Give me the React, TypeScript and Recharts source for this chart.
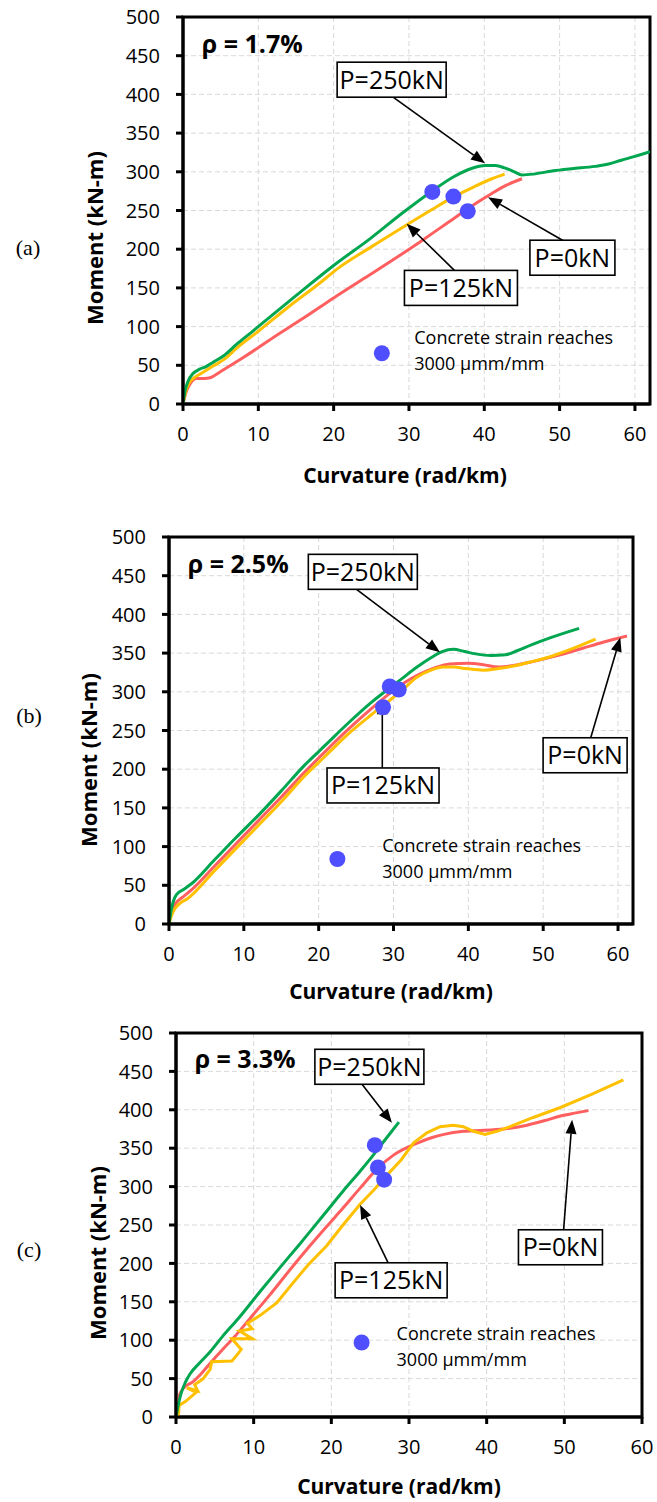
import React from 'react'
import {
  ComposedChart,
  Line,
  Scatter,
  XAxis,
  YAxis,
  CartesianGrid,
  ReferenceArea,
  ReferenceLine,
  ReferenceDot,
} from 'recharts'

type Pt = [number, number]

const FONT = '"Open Sans", sans-serif'
const GREEN = '#00a650'
const YELLOW = '#ffc000'
const RED = '#ff5f5f'
const BLUE = '#4f4fff'

const X_TICKS = [0, 10, 20, 30, 40, 50, 60]
const Y_TICKS = [0, 50, 100, 150, 200, 250, 300, 350, 400, 450, 500]
const LEGEND_TEXT = ['Concrete strain reaches', '3000 μmm/mm']

// (a) rho = 1.7%
const A_P0: Pt[] = [[0, 0], [0.4, 15], [1, 27], [1.8, 33], [2.8, 33], [3.6, 34], [5, 42], [8, 60], [12, 86], [16, 111], [20, 137], [24, 162], [28, 187], [32, 213], [36, 240], [39, 260], [41, 272], [43, 283], [45, 291]]
const A_P125: Pt[] = [[0, 0], [0.3, 14], [0.8, 27], [1.5, 34], [2.5, 40], [4, 49], [5.5, 58], [7.1, 72], [10, 94], [14.2, 127], [18, 155], [20.4, 174], [25, 203], [29.8, 232], [33, 251], [36, 268], [38.5, 280], [41, 291], [42.7, 297]]
const A_P250: Pt[] = [[0, 0], [0.3, 18], [0.7, 30], [1.3, 39], [2.2, 45], [3, 48], [4, 54], [5.5, 63], [7.1, 77], [9, 92], [11.6, 113], [15, 140], [20, 179], [24.9, 214], [29.3, 248], [32.9, 274], [36, 294], [38.2, 304], [40.2, 308], [41.5, 308], [42.7, 305], [44, 300], [45, 296], [46.5, 297], [49, 301], [51.6, 304], [54.7, 307], [56.5, 310], [58.2, 315], [60, 320], [62, 326]]
const A_STRAIN: Pt[] = [[33.1, 274], [35.9, 268], [37.8, 249]]

// (b) rho = 2.5%
const B_P0: Pt[] = [[0, 0], [0.3, 14], [0.7, 24], [1.2, 30], [2, 36], [3, 44], [6, 74], [9, 104], [12, 134], [15, 164], [18, 195], [21, 224], [24, 252], [27, 278], [29.5, 298], [31.5, 312], [33.5, 323], [35.5, 331], [37.5, 336], [40, 337], [42, 335], [44, 332], [46, 334], [48.6, 339], [52, 347], [55.2, 356], [58, 364], [61.2, 372]]
const B_P125: Pt[] = [[0, 0], [0.3, 10], [0.8, 20], [1.5, 27], [2.5, 33], [6, 68], [9, 98], [12, 128], [15, 158], [18, 190], [21, 218], [24, 246], [27, 270], [29.5, 289], [31.5, 305], [33, 318], [35, 328], [36.6, 332], [38, 332], [39.7, 330], [42, 328], [44, 330], [46.4, 334], [48.5, 339], [50.8, 345], [54, 356], [57, 368]]
const B_P250: Pt[] = [[0, 0], [0.3, 18], [0.6, 30], [1, 38], [2, 45], [3, 52], [6, 82], [9, 112], [12, 141], [15, 172], [18, 204], [21, 232], [24, 260], [27, 286], [29.5, 305], [31, 316], [33, 331], [35, 344], [36.5, 352], [38, 355], [39.5, 352], [41, 349], [43, 347], [45, 348], [46.5, 353], [48.5, 361], [51, 370], [54.8, 382]]
const B_STRAIN: Pt[] = [[29.5, 307], [30.7, 303], [28.6, 280]]

// (c) rho = 3.3%
const C_P0: Pt[] = [[0, 0], [0.2, 20], [0.5, 30], [1, 38], [2.2, 46], [3.3, 57], [4.4, 70], [6, 88], [7.5, 104], [9.5, 128], [12, 158], [15.1, 197], [17, 220], [19.4, 248], [21.5, 272], [23.7, 298], [26, 324], [28, 341], [30, 352], [31.4, 358], [33, 364], [34.5, 368], [37, 372], [40.9, 374], [43, 376], [45.2, 380], [47.5, 386], [49.5, 392], [51.5, 396], [53.1, 399]]
const C_P125: Pt[] = [[0.3, 0], [0.4, 15], [1.2, 20], [2.6, 32], [1.4, 38], [2.8, 34], [2.4, 42], [3.5, 50], [4.4, 62], [4.6, 72], [7.2, 73], [7.8, 80], [8.4, 88], [7.2, 102], [9.8, 102], [8.2, 112], [9.8, 115], [9.2, 122], [10.8, 132], [13, 149], [15.1, 175], [17, 198], [19.4, 223], [21.5, 250], [23.7, 277], [25.5, 296], [27.1, 314], [29, 335], [30.6, 357], [32.3, 370], [34, 378], [35.7, 380], [37, 378], [38.3, 372], [39.8, 368], [41.3, 372], [43, 378], [46, 390], [49.5, 403], [53.5, 420], [57.6, 439]]
const C_P250: Pt[] = [[0, 0], [0.3, 16], [0.7, 32], [1.2, 45], [1.8, 56], [3, 70], [4.4, 85], [6, 105], [8, 128], [10.8, 163], [13, 190], [16, 226], [19.4, 268], [21.5, 294], [23.7, 320], [25.4, 341], [27, 362], [28.7, 384]]
const C_STRAIN: Pt[] = [[25.6, 354], [26, 325], [26.8, 309]]

interface Callout {
  text: string
  box: Pt
  w: number
  from: Pt
  to: Pt
}

interface PanelCfg {
  tag: string
  tagPos: Pt
  top: number
  height: number
  margin: { top: number; right: number; left: number; bottom: number }
  xMax: number
  p0: Pt[]
  p125: Pt[]
  p250: Pt[]
  strain: Pt[]
  rho: string
  rhoAt: Pt
  legendDot: Pt
  legendText: Pt
  yTitle: Pt
  xTitle: Pt
  callouts: Callout[]
}

const PANELS: PanelCfg[] = [
  {
    tag: '(a)', tagPos: [28, 248], top: 0, height: 500,
    margin: { top: 17, right: 7, left: 123, bottom: 56 }, xMax: 62,
    p0: A_P0, p125: A_P125, p250: A_P250, strain: A_STRAIN,
    rho: 'ρ = 1.7%', rhoAt: [2.5, 453], legendDot: [26.4, 65.6], legendText: [30.7, 86],
    yTitle: [94, 238], xTitle: [405, 483],
    callouts: [
      { text: 'P=250kN', box: [27.7, 419], w: 109, from: [27.8, 397], to: [40.1, 311] },
      { text: 'P=0kN', box: [51.7, 189], w: 85, from: [50.5, 211], to: [40.5, 267] },
      { text: 'P=125kN', box: [36.9, 150], w: 113, from: [36.1, 172], to: [29.7, 233] },
    ],
  },
  {
    tag: '(b)', tagPos: [29, 716], top: 500, height: 505,
    margin: { top: 37, right: 24, left: 109, bottom: 41 }, xMax: 62,
    p0: B_P0, p125: B_P125, p250: B_P250, strain: B_STRAIN,
    rho: 'ρ = 2.5%', rhoAt: [2.5, 453], legendDot: [22.5, 84], legendText: [28.5, 102],
    yTitle: [88, 260], xTitle: [391, 499],
    callouts: [
      { text: 'P=250kN', box: [25.9, 455], w: 109, from: [25.1, 432], to: [36.2, 351] },
      { text: 'P=125kN', box: [28.6, 179], w: 112, from: [28.5, 202], to: [28.5, 289] },
      { text: 'P=0kN', box: [55.6, 218], w: 84, from: [56.3, 239], to: [60.3, 370] },
    ],
  },
  {
    tag: '(c)', tagPos: [29, 1250], top: 1000, height: 502,
    margin: { top: 33, right: 15, left: 116, bottom: 45 }, xMax: 60,
    p0: C_P0, p125: C_P125, p250: C_P250, strain: C_STRAIN,
    rho: 'ρ = 3.3%', rhoAt: [2.4, 454], legendDot: [23.9, 97], legendText: [28.4, 110],
    yTitle: [97, 253], xTitle: [399, 494],
    callouts: [
      { text: 'P=250kN', box: [24.9, 456], w: 109, from: [23.9, 434], to: [27.8, 383] },
      { text: 'P=125kN', box: [27.7, 178], w: 112, from: [27.3, 201], to: [23.7, 276] },
      { text: 'P=0kN', box: [49.5, 221], w: 84, from: [49.9, 243], to: [51, 387] },
    ],
  },
]

const toObj = (pts: Pt[]) => pts.map(([x, y]) => ({ x, y }))

function arrowShape(p: any) {
  const { x1, y1, x2, y2 } = p
  const ang = Math.atan2(y2 - y1, x2 - x1)
  const L = 14
  const W = 5.5
  const bx = x2 - L * Math.cos(ang)
  const by = y2 - L * Math.sin(ang)
  const nx = -Math.sin(ang) * W
  const ny = Math.cos(ang) * W
  return (
    <g>
      <line x1={x1} y1={y1} x2={bx} y2={by} stroke="#000" strokeWidth={1.6} />
      <polygon points={`${x2},${y2} ${bx + nx},${by + ny} ${bx - nx},${by - ny}`} fill="#000" />
    </g>
  )
}

const boxShape = (text: string, w: number) => (p: any) => (
  <g>
    <rect x={p.cx - w / 2} y={p.cy - 17.5} width={w} height={35} fill="#fff" stroke="#000" strokeWidth={1.6} />
    <text x={p.cx} y={p.cy + 9} textAnchor="middle" fontFamily={FONT} fontSize={25} fill="#000">
      {text}
    </text>
  </g>
)

const strainDot = (p: any) => <circle cx={p.cx} cy={p.cy} r={8} fill={BLUE} />

function Panel({ cfg }: { cfg: PanelCfg }) {
  const tick = { fill: '#000', fontSize: 20, fontFamily: FONT }
  const axisLine = { stroke: '#000', strokeWidth: 3 }
  return (
    <div style={{ position: 'absolute', left: 0, top: cfg.top, width: 657, height: cfg.height }}>
      <ComposedChart width={657} height={cfg.height} margin={cfg.margin}>
        <CartesianGrid stroke="#d9d9d9" strokeDasharray="5 3" />
        <XAxis
          type="number"
          dataKey="x"
          domain={[0, cfg.xMax]}
          ticks={X_TICKS}
          interval={0}
          allowDataOverflow
          height={40}
          tickSize={7}
          tickMargin={16}
          axisLine={axisLine}
          tickLine={axisLine}
          tick={tick}
          label={{
            content: () => (
              <text x={cfg.xTitle[0]} y={cfg.xTitle[1]} textAnchor="middle" fontFamily={FONT} fontWeight={700} fontSize={21} fill="#000">
                Curvature (rad/km)
              </text>
            ),
          }}
        />
        <YAxis
          type="number"
          domain={[0, 500]}
          ticks={Y_TICKS}
          interval={0}
          width={60}
          tickSize={7}
          tickMargin={16}
          axisLine={axisLine}
          tickLine={axisLine}
          tick={tick}
          label={{
            content: () => (
              <text
                x={cfg.yTitle[0]}
                y={cfg.yTitle[1]}
                transform={`rotate(-90, ${cfg.yTitle[0]}, ${cfg.yTitle[1]})`}
                textAnchor="middle"
                dominantBaseline="central"
                fontFamily={FONT}
                fontWeight={700}
                fontSize={22}
                fill="#000"
              >
                Moment (kN-m)
              </text>
            ),
          }}
        />
        <ReferenceArea x1={0} x2={cfg.xMax} y1={0} y2={500} fill="none" fillOpacity={0} stroke="#000" strokeWidth={3} ifOverflow="visible" />
        <Line data={toObj(cfg.p0)} dataKey="y" type="monotone" stroke={RED} strokeWidth={3} dot={false} isAnimationActive={false} />
        <Line data={toObj(cfg.p125)} dataKey="y" type={cfg.tag === '(c)' ? 'linear' : 'monotone'} stroke={YELLOW} strokeWidth={3} dot={false} isAnimationActive={false} />
        <Line data={toObj(cfg.p250)} dataKey="y" type="monotone" stroke={GREEN} strokeWidth={3} dot={false} isAnimationActive={false} />
        <Scatter data={toObj(cfg.strain)} dataKey="y" fill={BLUE} shape={strainDot} isAnimationActive={false} />

        <ReferenceDot
          x={cfg.rhoAt[0]}
          y={cfg.rhoAt[1]}
          shape={(p: any) => (
            <text x={p.cx} y={p.cy} fontFamily={FONT} fontWeight={700} fontSize={25} fill="#000">
              {cfg.rho}
            </text>
          )}
        />
        <ReferenceDot x={cfg.legendDot[0]} y={cfg.legendDot[1]} r={8} fill={BLUE} stroke="none" />
        <ReferenceDot
          x={cfg.legendText[0]}
          y={cfg.legendText[1]}
          shape={(p: any) => (
            <text x={p.cx} y={p.cy} fontFamily={FONT} fontSize={18} fill="#000" dominantBaseline="central">
              <tspan x={p.cx} dy={0}>{LEGEND_TEXT[0]}</tspan>
              <tspan x={p.cx} dy={26}>{LEGEND_TEXT[1]}</tspan>
            </text>
          )}
        />

        {cfg.callouts.map((c) => (
          <ReferenceLine
            key={`l-${c.text}`}
            segment={[{ x: c.from[0], y: c.from[1] }, { x: c.to[0], y: c.to[1] }]}
            shape={arrowShape}
          />
        ))}
        {cfg.callouts.map((c) => (
          <ReferenceDot key={`b-${c.text}`} x={c.box[0]} y={c.box[1]} shape={boxShape(c.text, c.w)} />
        ))}
      </ComposedChart>
    </div>
  )
}

export default function App() {
  return (
    <div style={{ position: 'absolute', left: 0, top: 0, width: 657, height: 1502, background: '#fff', overflow: 'hidden' }}>
      {PANELS.map((cfg) => (
        <Panel key={cfg.tag} cfg={cfg} />
      ))}
      {PANELS.map((cfg) => (
        <span
          key={`t-${cfg.tag}`}
          style={{
            position: 'absolute',
            left: cfg.tagPos[0],
            top: cfg.tagPos[1],
            transform: 'translate(-50%, -50%)',
            fontFamily: '"Liberation Serif", serif',
            fontSize: 22,
            lineHeight: 1,
          }}
        >
          {cfg.tag}
        </span>
      ))}
    </div>
  )
}
